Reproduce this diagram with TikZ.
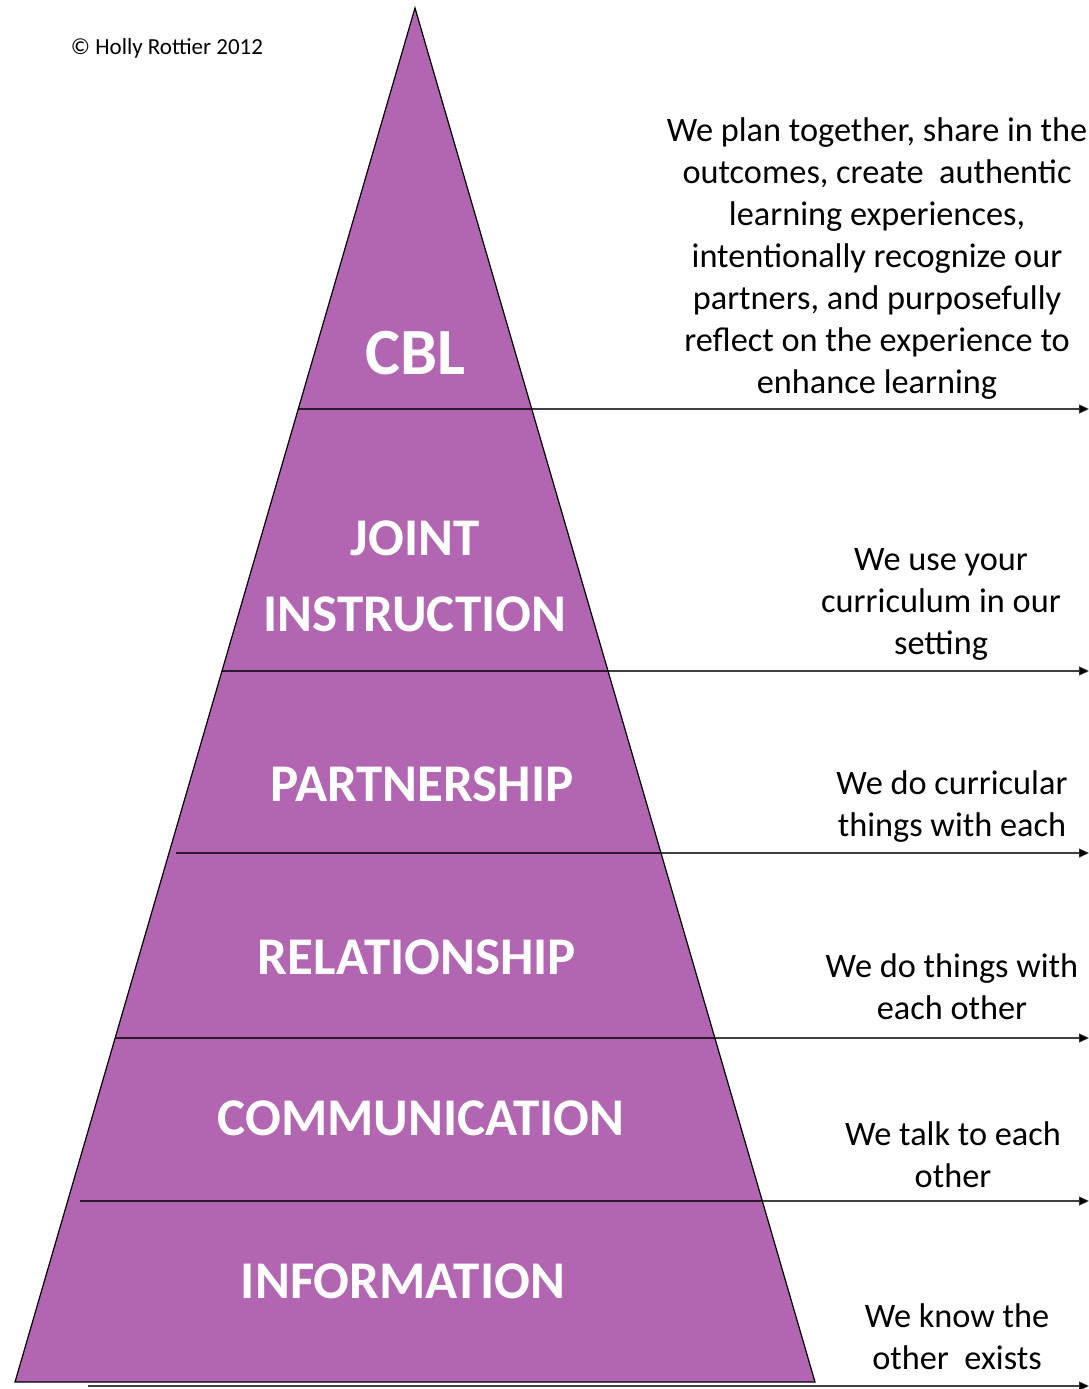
\documentclass[tikz,border=0pt]{standalone}
\usepackage{fontspec}
\setmainfont{Carlito}
\usetikzlibrary{arrows.meta}
\definecolor{pyr}{RGB}{178,102,178}
\begin{document}
\begin{tikzpicture}[x=1pt,y=-1pt,
  lev/.style={font=\fontsize{53}{76}\selectfont\bfseries, text=white, align=center, inner sep=0pt},
  desc/.style={font=\fontsize{34.3}{42}\selectfont, align=center, inner sep=0pt},
  tier/.style={draw=black, draw opacity=0.75, line width=1.3pt, -{Triangle[length=10pt,width=9pt]}},
  edge/.style={draw=black, line width=1.2pt, fill=pyr, line join=miter}]
\useasboundingbox (0,0) rectangle (1089,1389);
% pyramid
\coordinate (apex) at (415,8);
\coordinate (bl) at (15,1382);
\coordinate (br) at (815,1382);
\path[edge] (apex) -- (br) -- (bl) -- cycle;
% tier line end points
\coordinate (s1) at (298,409);  \coordinate (e1) at (1089,409);
\coordinate (s2) at (222,671);  \coordinate (e2) at (1089,671);
\coordinate (s3) at (176,853);  \coordinate (e3) at (1089,853);
\coordinate (s4) at (116,1038); \coordinate (e4) at (1089,1038);
\coordinate (s5) at (80,1201);  \coordinate (e5) at (1089,1201);
\coordinate (s6) at (88,1386);  \coordinate (e6) at (1089,1386);
\draw[tier] (s1) -- (e1);
\draw[tier] (s2) -- (e2);
\draw[tier] (s3) -- (e3);
\draw[tier] (s4) -- (e4);
\draw[tier] (s5) -- (e5);
\draw[tier] (s6) -- (e6);
% level labels
\node[lev, font=\fontsize{66}{76}\selectfont\bfseries] (cbl) at (415,353) {CBL};
\node[lev] (joint) at (415,576) {JOINT\\INSTRUCTION};
\node[lev] (part) at (422,784) {PARTNERSHIP};
\node[lev] (rel) at (417,957) {RELATIONSHIP};
\node[lev] (comm) at (421,1118) {COMMUNICATION};
\node[lev] (info) at (403,1281) {INFORMATION};
% descriptions
\node[desc] (d1) at (877,259) {We plan together, share in the\\outcomes, create\ \ authentic\\learning experiences,\\intentionally recognize our\\partners, and purposefully\\reflect on the experience to\\enhance learning};
\node[desc] (d2) at (941,604) {We use your\\curriculum in our\\setting};
\node[desc] (d3) at (952,807) {We do curricular\\things with each};
\node[desc] (d4) at (952,987) {We do things with\\each other};
\node[desc] (d5) at (953,1155) {We talk to each\\other};
\node[desc] (d6) at (957,1337) {We know the\\other\ \ exists};
% copyright
\node[font=\fontsize{23}{27}\selectfont, inner sep=0pt] (copy) at (167,48) {© Holly Rottier 2012};
\end{tikzpicture}
\end{document}
